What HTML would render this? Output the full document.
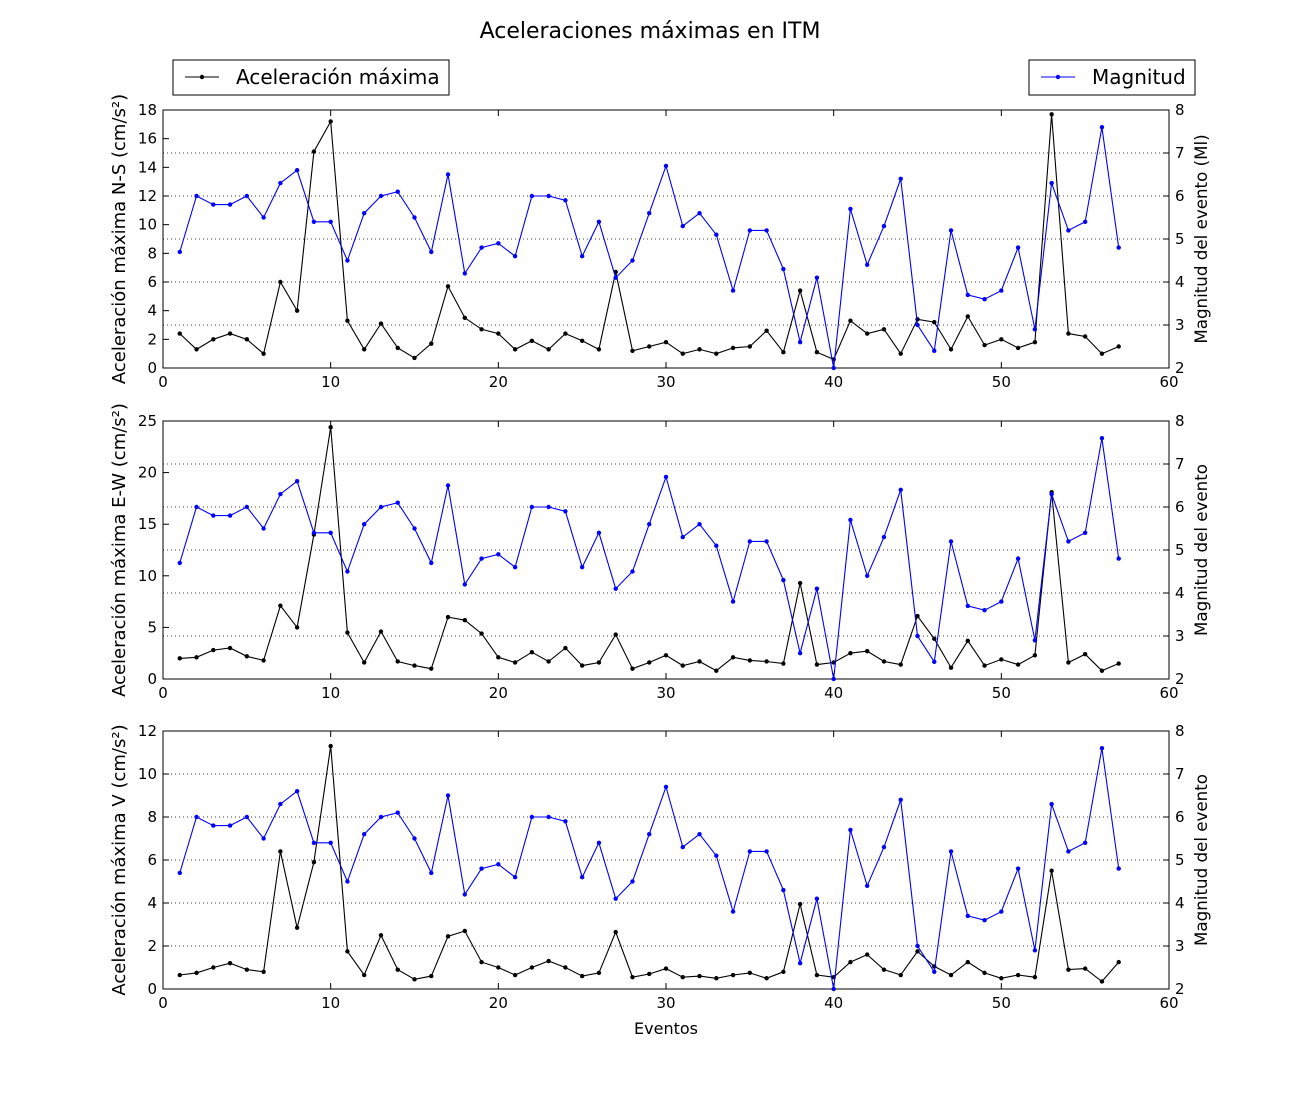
<!DOCTYPE html>
<html><head><meta charset="utf-8"><style>
body{margin:0;background:#fff;}
svg{font-family:"DejaVu Sans","Liberation Sans",sans-serif;}
</style></head><body>
<svg id="chart" width="1300" height="1100" xmlns="http://www.w3.org/2000/svg"></svg>
<script>
const eventos = Array.from({length:57},(_,i)=>i+1);
const magnitud = [4.7,6.0,5.8,5.8,6.0,5.5,6.3,6.6,5.4,5.4,4.5,5.6,6.0,6.1,5.5,4.7,6.5,4.2,4.8,4.9,4.6,6.0,6.0,5.9,4.6,5.4,4.1,4.5,5.6,6.7,5.3,5.6,5.1,3.8,5.2,5.2,4.3,2.6,4.1,2.0,5.7,4.4,5.3,6.4,3.0,2.4,5.2,3.7,3.6,3.8,4.8,2.9,6.3,5.2,5.4,7.6,4.8];
const accNS = [2.4,1.3,2.0,2.4,2.0,1.0,6.0,4.0,15.1,17.2,3.3,1.3,3.1,1.4,0.7,1.7,5.7,3.5,2.7,2.4,1.3,1.9,1.3,2.4,1.9,1.3,6.7,1.2,1.5,1.8,1.0,1.3,1.0,1.4,1.5,2.6,1.1,5.4,1.1,0.6,3.3,2.4,2.7,1.0,3.4,3.2,1.3,3.6,1.6,2.0,1.4,1.8,17.7,2.4,2.2,1.0,1.5];
const accEW = [2.0,2.1,2.8,3.0,2.2,1.8,7.1,5.0,14.0,24.4,4.5,1.6,4.6,1.7,1.3,1.0,6.0,5.7,4.4,2.1,1.6,2.6,1.7,3.0,1.3,1.6,4.3,1.0,1.6,2.3,1.3,1.7,0.8,2.1,1.8,1.7,1.5,9.3,1.4,1.6,2.5,2.7,1.7,1.4,6.1,3.9,1.1,3.7,1.3,1.9,1.4,2.3,18.1,1.6,2.4,0.8,1.5];
const accV = [0.65,0.75,1.0,1.2,0.9,0.8,6.4,2.85,5.9,11.3,1.75,0.65,2.5,0.9,0.45,0.6,2.45,2.7,1.25,1.0,0.65,1.0,1.3,1.0,0.6,0.75,2.65,0.55,0.7,0.95,0.55,0.6,0.5,0.65,0.75,0.5,0.8,3.95,0.65,0.55,1.25,1.6,0.9,0.65,1.75,1.05,0.65,1.25,0.75,0.5,0.65,0.55,5.5,0.9,0.95,0.35,1.25];
const xTicks = [0,10,20,30,40,50,60];
const magTicks = [2,3,4,5,6,7,8];
const nsTicks = [0,2,4,6,8,10,12,14,16,18];
const ewTicks = [0,5,10,15,20,25];
const vTicks = [0,2,4,6,8,10,12];

const svg = document.getElementById('chart');
const NS='http://www.w3.org/2000/svg';
function mk(tag, attrs, parent, text){
  const e=document.createElementNS(NS,tag);
  for(const k in attrs) e.setAttribute(k,attrs[k]);
  if(text!==undefined) e.textContent=text;
  (parent||svg).appendChild(e); return e;
}
const X0=163, X1=1169;
const xs = v => X0 + (v-0)/60*(X1-X0);

const panels = [
 {top:110,bot:368,data:accNS,max:18,ticks:nsTicks,label:'Aceleración máxima N-S (cm/s²)',rlabel:'Magnitud del evento (Ml)',name:'ns'},
 {top:421,bot:679,data:accEW,max:25,ticks:ewTicks,label:'Aceleración máxima E-W (cm/s²)',rlabel:'Magnitud del evento',name:'ew'},
 {top:731,bot:989,data:accV,max:12,ticks:vTicks,label:'Aceleración máxima V (cm/s²)',rlabel:'Magnitud del evento',name:'v'}
];

panels.forEach(p=>{
  const g = mk('g',{});
  
  
  const ys = v => p.bot - v/p.max*(p.bot-p.top);
  const ym = v => p.bot - (v-2)/6*(p.bot-p.top);
  magTicks.forEach(t=>{
    if(t===2||t===8) return;
    const l=mk('line',{x1:X0,x2:X1,y1:ym(t),y2:ym(t),stroke:'#000','stroke-width':0.8,'stroke-dasharray':'1,3'},g);
    
    
  });
  const r=mk('rect',{x:X0,y:p.top,width:X1-X0,height:p.bot-p.top,fill:'none',stroke:'#000','stroke-width':1},g);
  
  
  xTicks.forEach(t=>{
    const x=xs(t);
    mk('line',{x1:x,x2:x,y1:p.bot,y2:p.bot-6,stroke:'#000'},g);
    mk('line',{x1:x,x2:x,y1:p.top,y2:p.top+6,stroke:'#000'},g);
    const tx=mk('text',{x:x,y:p.bot+19,'text-anchor':'middle','font-size':15},g,String(t));
    
    
  });
  p.ticks.forEach(t=>{
    const y=ys(t);
    mk('line',{x1:X0,x2:X0+6,y1:y,y2:y,stroke:'#000'},g);
    const tx=mk('text',{x:X0-6,y:y+5,'text-anchor':'end','font-size':15},g,String(t));
    
    
  });
  magTicks.forEach(t=>{
    const y=ym(t);
    mk('line',{x1:X1,x2:X1-6,y1:y,y2:y,stroke:'#000'},g);
    const tx=mk('text',{x:X1+6,y:y+5,'text-anchor':'start','font-size':15},g,String(t));
    
    
  });
  const cy=(p.top+p.bot)/2;
  const yl=mk('text',{x:0,y:0,'text-anchor':'middle','font-size':18,transform:`translate(125,${cy}) rotate(-90)`},g,p.label);
  
  
  const rl=mk('text',{x:0,y:0,'text-anchor':'middle','font-size':16.7,transform:`translate(1207,${cy}) rotate(-90)`},g,p.rlabel);
  
  
  function series(vals,yf,color,nm){
    const pts=vals.map((v,i)=>xs(eventos[i]).toFixed(1)+','+yf(v).toFixed(1)).join(' ');
    const pl=mk('polyline',{points:pts,fill:'none',stroke:color,'stroke-width':1.1},g);
    
    
    vals.forEach((v,i)=>{
      const c=mk('circle',{cx:xs(eventos[i]),cy:yf(v),r:2.2,fill:color},g);
      
      
    });
  }
  series(p.data,ys,'#000','acceleration');
  series(magnitud,ym,'#0000ff','magnitude');
});

const xl=mk('text',{x:666,y:1034,'text-anchor':'middle','font-size':16},svg,'Eventos');


const ti=mk('text',{x:650,y:38,'text-anchor':'middle','font-size':22},svg,'Aceleraciones máximas en ITM');



function legend(x,w,color,label,nm){
  const g=mk('g',{});
  
  
  mk('rect',{x:x,y:60,width:w,height:35,fill:'#fff',stroke:'#000'},g);
  mk('line',{x1:x+12,x2:x+46,y1:77,y2:77,stroke:color,'stroke-width':1.1},g);
  mk('circle',{cx:x+29,cy:77,r:2.2,fill:color},g);
  mk('text',{x:x+63,y:84,'font-size':20},g,label);
}
legend(173,276,'#000','Aceleración máxima','legend-acceleration');
legend(1029,166,'#0000ff','Magnitud','legend-magnitude');
</script>
</body></html>
